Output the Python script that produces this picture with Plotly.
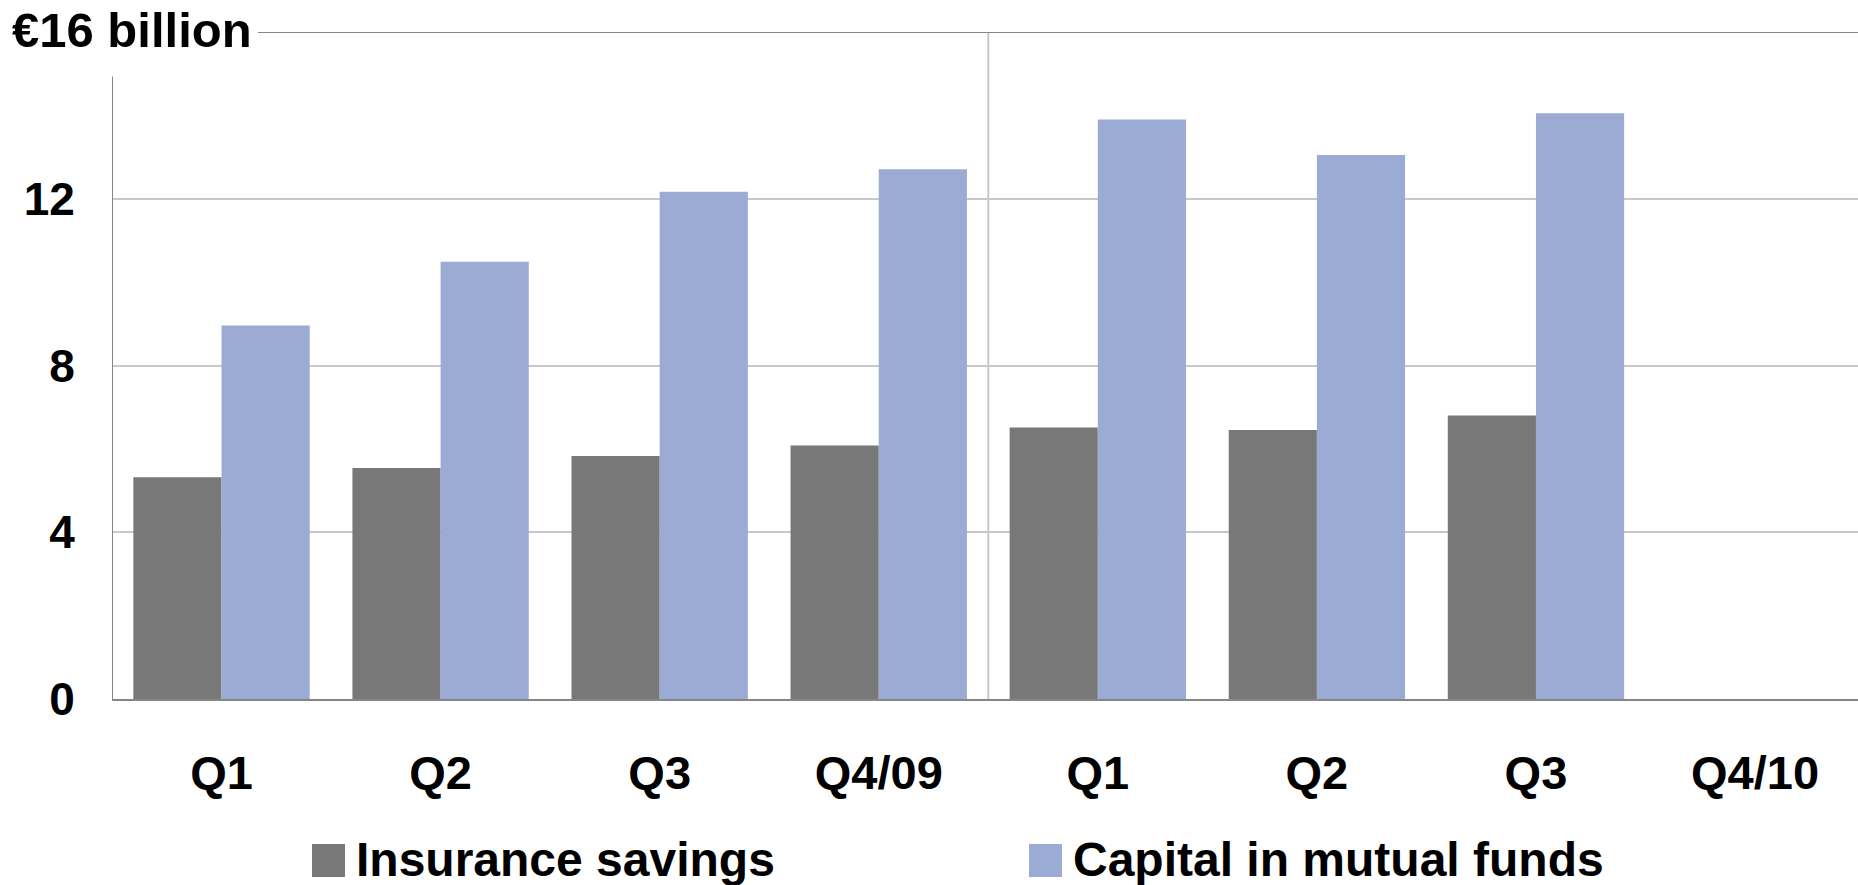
import plotly.graph_objects as go

# ---- data ----
categories = ["Q1", "Q2", "Q3", "Q4/09", "Q1", "Q2", "Q3", "Q4/10"]
insurance_savings = [5.32, 5.54, 5.83, 6.08, 6.51, 6.45, 6.80, None]
mutual_funds = [8.96, 10.49, 12.17, 12.71, 13.90, 13.05, 14.05, None]
series_names = ["Insurance savings", "Capital in mutual funds"]
y_ticks = [0, 4, 8, 12]
y_top_label = "€16 billion"

GRAY = "#787878"
BLUE = "#9BABD4"
AXIS = "#868686"
GRID = "#c8c8c8"
FONT = "Arial, Liberation Sans, sans-serif"

x = list(range(len(categories)))

fig = go.Figure()
fig.add_trace(go.Bar(x=x, y=insurance_savings, name=series_names[0],
                     marker=dict(color=GRAY, line=dict(width=0))))
fig.add_trace(go.Bar(x=x, y=mutual_funds, name=series_names[1],
                     marker=dict(color=BLUE, line=dict(width=0))))

W, H = 1858, 885
L, R, T, B = 112, 0, 32, 186
ph = H - T - B
pw = W - L - R


def py(ypage):
    return (H - B - ypage) / ph


def px(xpage):
    return (xpage - L) / pw


fig.update_layout(
    width=W, height=H,
    margin=dict(l=L, r=R, t=T, b=B),
    paper_bgcolor="white", plot_bgcolor="white",
    barmode="group", bargap=0.195, bargroupgap=0,
    showlegend=False,
    font=dict(family=FONT, color="black"),
)

fig.update_xaxes(
    range=[-0.5, 7.47],
    tickmode="array", tickvals=x, ticktext=categories,
    tickfont=dict(family=FONT, size=47, weight="bold", color="black"),
    ticks="outside", ticklen=32, tickcolor="rgba(0,0,0,0)",
    showline=True, linecolor=AXIS, linewidth=2,
    showgrid=False, zeroline=False,
)
fig.update_yaxes(
    range=[0, 16],
    tickmode="array", tickvals=y_ticks,
    tickfont=dict(family=FONT, size=46, weight="bold", color="black"),
    ticks="outside", ticklen=27, tickcolor="rgba(0,0,0,0)",
    showgrid=True, gridcolor=GRID, gridwidth=2,
    showline=False, zeroline=False,
)

# top "16" line
fig.add_shape(type="line", xref="paper", yref="y", x0=px(258), x1=1, y0=16, y1=16,
              line=dict(color=AXIS, width=2))
# y-axis line
fig.add_shape(type="line", xref="x", yref="y", x0=-0.5, x1=-0.5, y0=0, y1=14.93,
              line=dict(color=AXIS, width=2))
# year divider
fig.add_shape(type="line", xref="x", yref="y", x0=3.5, x1=3.5, y0=0, y1=16,
              line=dict(color=GRID, width=2), layer="below")

fig.add_annotation(text=y_top_label, xref="paper", yref="y", x=px(10), y=16,
                   xanchor="left", yanchor="middle", showarrow=False, yshift=2,
                   font=dict(family=FONT, size=49, weight="bold", color="black"))

# custom legend
leg_items = [(series_names[0], GRAY, 312), (series_names[1], BLUE, 1029)]
for name, col, x0 in leg_items:
    fig.add_shape(type="rect", xref="paper", yref="paper",
                  x0=px(x0), x1=px(x0 + 33), y0=py(877), y1=py(844),
                  fillcolor=col, line=dict(width=0))
    fig.add_annotation(text=name, xref="paper", yref="paper", x=px(x0 + 42), y=py(859),
                       xanchor="left", yanchor="middle", showarrow=False,
                       font=dict(family=FONT, size=48, weight="bold", color="black"))

fig.write_html("out.html",
               config={"displayModeBar": False},
               post_script="document.body.style.margin='0';document.body.style.overflow='hidden';")
